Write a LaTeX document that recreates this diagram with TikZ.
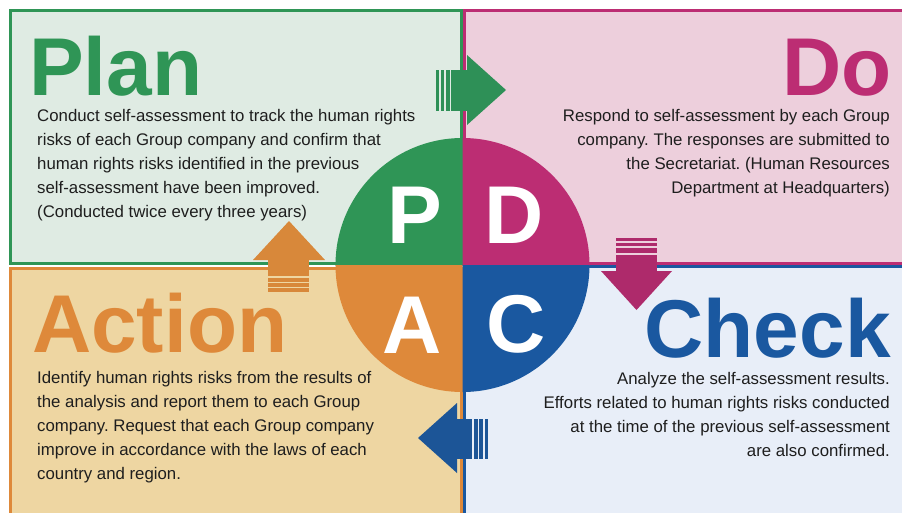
\documentclass[tikz,border=0pt]{standalone}
\usepackage{fontspec}
\setmainfont{Liberation Sans}
\frenchspacing
\definecolor{pgreen}{HTML}{2F9556}
\definecolor{pgreenbg}{HTML}{DFEBE3}
\definecolor{dmag}{HTML}{BC2D73}
\definecolor{dmagbg}{HTML}{EDCFDC}
\definecolor{aorange}{HTML}{DE893A}
\definecolor{aorangebg}{HTML}{EED6A2}
\definecolor{cblue}{HTML}{1A58A0}
\definecolor{cbluebg}{HTML}{E8EEF8}
\definecolor{arrgreen}{HTML}{2E9057}
\definecolor{arrmag}{HTML}{AE2A6B}
\definecolor{arrblue}{HTML}{1C5597}
\definecolor{arrorange}{HTML}{D8883A}
\definecolor{txt}{HTML}{1E1E1E}
\tikzset{
  panel/.style={line width=3pt},
  title/.style={font=\fontsize{82}{82}\selectfont\bfseries, inner sep=0pt, text depth=0pt},
  letter/.style={font=\fontsize{82}{82}\selectfont\bfseries, text=white, inner sep=0pt, anchor=base},
  body/.style={font=\fontsize{16.8}{24}\selectfont, text=txt, inner sep=0pt},
}
\begin{document}
\begin{tikzpicture}[x=1pt,y=-1pt]
\useasboundingbox (0,0) rectangle (902,512);
\fill[white] (0,0) rectangle (902,512);
% panels
\draw[panel, draw=pgreen, fill=pgreenbg] (10.5,10.5) rectangle (461,263.5);
\draw[panel, draw=dmag, fill=dmagbg] (464,10.5) rectangle (906,263);
\draw[panel, draw=aorange, fill=aorangebg] (10.5,268) rectangle (461,516);
\draw[panel, draw=cblue, fill=cbluebg] (464,266.5) rectangle (906,516);
% circle quadrants
\begin{scope}\clip (330,130) rectangle (462.5,265);
\fill[pgreen] (462.5,265) circle[radius=127];\end{scope}
\begin{scope}\clip (462.5,130) rectangle (600,265);
\fill[dmag] (462.5,265) circle[radius=127];\end{scope}
\begin{scope}\clip (330,265) rectangle (462.5,400);
\fill[aorange] (462.5,265) circle[radius=127];\end{scope}
\begin{scope}\clip (462.5,265) rectangle (600,400);
\fill[cblue] (462.5,265) circle[radius=127];\end{scope}
% arrow P -> D
\fill[arrgreen] (467,55) -- (506,90) -- (467,125) -- cycle;
\fill[arrgreen] (451,70) rectangle (467.5,111);
\fill[arrgreen] (436,70) rectangle (439,111);
\fill[arrgreen] (441,70) rectangle (444,111);
\fill[arrgreen] (445.5,70) rectangle (449.5,111);
% arrow D -> C
\fill[arrmag] (601,271) -- (672,271) -- (636.5,310) -- cycle;
\fill[arrmag] (616,254.5) rectangle (657,271.5);
\fill[arrmag] (616,238) rectangle (657,240.5);
\fill[arrmag] (616,242.5) rectangle (657,246);
\fill[arrmag] (616,248) rectangle (657,252.5);
% arrow C -> A
\fill[arrblue] (457,403) -- (457,473) -- (418,438) -- cycle;
\fill[arrblue] (456.5,419) rectangle (472,459);
\fill[arrblue] (473.5,419) rectangle (477.5,459);
\fill[arrblue] (479,419) rectangle (482.5,459);
\fill[arrblue] (484.5,419) rectangle (488,459);
% arrow A -> P
\fill[arrorange] (253,260) -- (325,260) -- (289,221) -- cycle;
\fill[arrorange] (268,259.5) rectangle (309,276);
\fill[arrorange] (268,277.5) rectangle (309,281.5);
\fill[arrorange] (268,283) rectangle (309,286.5);
\fill[arrorange] (268,288) rectangle (309,291.5);
% titles
\node[title, text=pgreen, anchor=base west] (tplan) at (29,95) {Plan};
\node[title, text=dmag, anchor=base east] (tdo) at (892,95) {Do};
\node[title, text=aorange, anchor=base west] (taction) at (32,352) {Action};
\node[title, text=cblue, anchor=base east] (tcheck) at (891,357) {Check};
% letters
\node[letter] (lp) at (415,243) {P};
\node[letter] (ld) at (514.5,243) {D};
\node[letter] (la) at (412.5,353) {A};
\node[letter] (lc) at (516,352) {C};
% body texts (anchor = baseline of last line)
\node[body, align=left, anchor=base west] (bplan) at (37,217) {Conduct self-assessment to track the human rights\\risks of each Group company and confirm that\\human rights risks identified in the previous\\self-assessment have been improved.\\(Conducted twice every three years)};
\node[body, align=right, anchor=base east] (bdo) at (890,193) {Respond to self-assessment by each Group\\company. The responses are submitted to\\the Secretariat. (Human Resources\\Department at Headquarters)};
\node[body, align=left, anchor=base west] (baction) at (37,479) {Identify human rights risks from the results of\\the analysis and report them to each Group\\company. Request that each Group company\\improve in accordance with the laws of each\\country and region.};
\node[body, align=right, anchor=base east] (bcheck) at (890,456) {Analyze the self-assessment results.\\Efforts related to human rights risks conducted\\at the time of the previous self-assessment\\are also confirmed.};
\end{tikzpicture}
\end{document}
